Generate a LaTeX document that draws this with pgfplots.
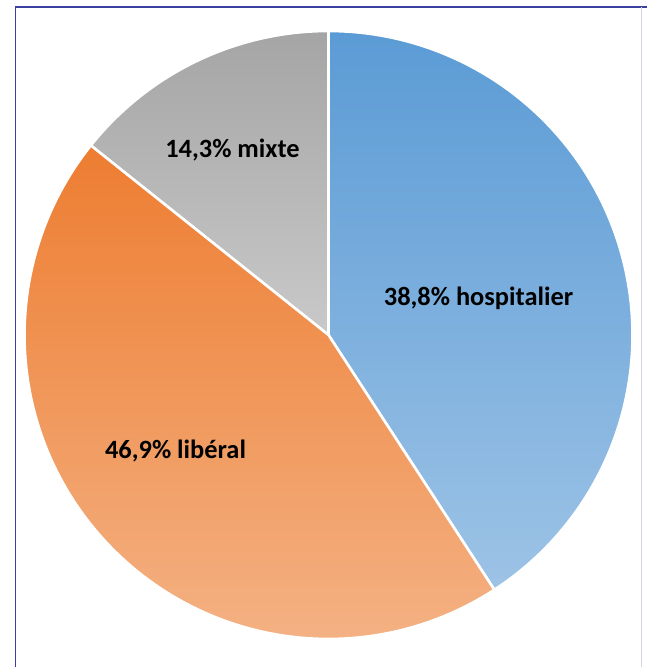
\documentclass[border=0pt]{standalone}
\usepackage{pgfplots}
\usepackage{pgfplotstable}
\pgfplotsset{compat=1.18}
\usepackage{fontspec}
\setmainfont{Carlito}
\definecolor{bluetop}{HTML}{5B9BD5}
\definecolor{bluebot}{HTML}{9DC3E6}
\definecolor{orgtop}{HTML}{ED7D31}
\definecolor{orgbot}{HTML}{F4B183}
\definecolor{graytop}{HTML}{A5A5A5}
\definecolor{graybot}{HTML}{C9C9C9}
\definecolor{frame}{HTML}{3B3FA0}
\definecolor{frameR}{HTML}{D4D4E2}

% slice sizes as drawn, and labels as printed
\pgfplotstableread{
name value
hospitalier 40
liberal 44
mixte 14
}\piedata

\begin{document}
\pgfplotstablegetelem{0}{value}\of\piedata \let\vA\pgfplotsretval
\pgfplotstablegetelem{1}{value}\of\piedata \let\vB\pgfplotsretval
\pgfplotstablegetelem{2}{value}\of\piedata \let\vC\pgfplotsretval
\pgfmathsetmacro{\tot}{\vA+\vB+\vC}
\pgfmathsetmacro{\aAs}{90-360*\vA/\tot}% blue: clockwise from top
\pgfmathsetmacro{\aCe}{90+360*\vC/\tot}% gray: counter-clockwise from top
\pgfmathsetmacro{\aBe}{\aAs+360}
\begin{tikzpicture}
\begin{axis}[
  at={(0,0)}, anchor=south west,
  width=642bp, height=667bp, scale only axis,
  xmin=0, xmax=642, ymin=0, ymax=667,
  hide axis, clip=false,
]
\fill[white] (axis cs:0,0) rectangle (axis cs:642,667);
% blue slice
\addplot[draw=white, line width=2.6pt, top color=bluetop, bottom color=bluebot,
  domain=\aAs:90, samples=120, variable=\t]
  ({324+304*cos(\t)},{332+304*sin(\t)}) -- (axis cs:324,332) -- cycle;
% gray slice
\addplot[draw=white, line width=2.6pt, top color=graytop, bottom color=graybot,
  domain=90:\aCe, samples=60, variable=\t]
  ({324+304*cos(\t)},{332+304*sin(\t)}) -- (axis cs:324,332) -- cycle;
% orange slice
\addplot[draw=white, line width=2.6pt, top color=orgtop, bottom color=orgbot,
  domain=\aCe:\aBe, samples=120, variable=\t]
  ({324+304*cos(\t)},{332+304*sin(\t)}) -- (axis cs:324,332) -- cycle;
% labels
\node[font=\fontsize{26.5}{30}\selectfont\bfseries] at (axis cs:474,369) {38,8\% hospitalier};
\node[font=\fontsize{26.5}{30}\selectfont\bfseries] at (axis cs:171,216) {46,9\% libéral};
\node[font=\fontsize{26.5}{30}\selectfont\bfseries] at (axis cs:228,517) {14,3\% mixte};
% frame
\draw[frame, line width=1.6pt] (axis cs:11,0) -- (axis cs:11,660) -- (axis cs:642,660);
\draw[frameR, line width=1pt] (axis cs:637,0) -- (axis cs:637,660);
\end{axis}
\pgfresetboundingbox
\useasboundingbox (0,0) rectangle (642bp,667bp);
\end{tikzpicture}
\end{document}
